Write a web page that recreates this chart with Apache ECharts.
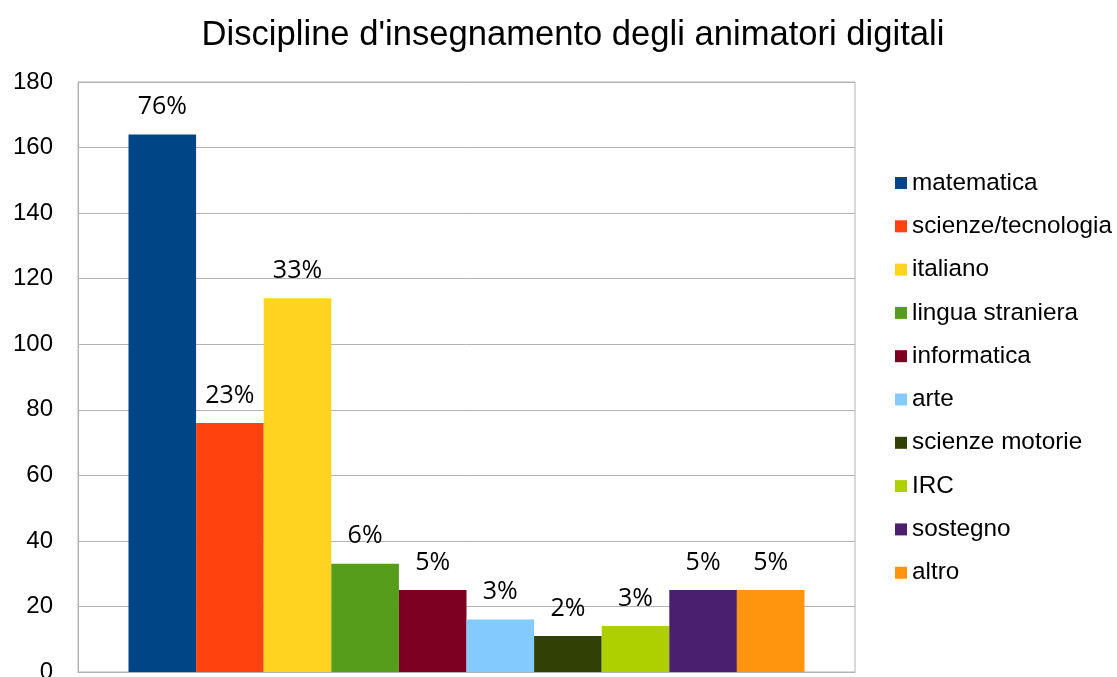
<!DOCTYPE html>
<html>
<head>
<meta charset="utf-8">
<script src="https://cdn.jsdelivr.net/npm/echarts@6/dist/echarts.min.js"></script>
<style>
  html, body { margin: 0; padding: 0; background: #fff; }
  #chart { width: 1117px; height: 677px; }
</style>
</head>
<body>
<div id="chart"></div>
<script>
  // dati
  var subjects = ['matematica', 'scienze/tecnologia', 'italiano', 'lingua straniera', 'informatica',
                  'arte', 'scienze motorie', 'IRC', 'sostegno', 'altro']
  var counts = [164, 76, 114, 33, 25, 16, 11, 14, 25, 25]
  var percentLabels = ['76%', '23%', '33%', '6%', '5%', '3%', '2%', '3%', '5%', '5%']
  var colors = ['#004586', '#ff420e', '#ffd320', '#579d1c', '#7e0021',
                '#83caff', '#314004', '#aecf00', '#4b1f6f', '#ff950e']

  var myChart = echarts.init(document.getElementById('chart'))

  var series = subjects.map(function (name, i) {
    return {
      name: name,
      type: 'bar',
      data: [counts[i]],
      barGap: '0%',
      barCategoryGap: '13%',
      itemStyle: { color: colors[i] },
      label: {
        show: true,
        position: 'top',
        distance: 15,
        formatter: function () { return percentLabels[i] },
        fontFamily: 'Open Sans',
        fontSize: 25,
        color: '#000'
      }
    }
  })

  var option = {
    animation: false,
    color: colors,
    title: {
      text: "Discipline d'insegnamento degli animatori digitali",
      left: 568,
      textAlign: 'center',
      top: 13,
      textStyle: {
        fontFamily: 'Liberation Sans',
        fontSize: 34.6,
        fontWeight: 'normal',
        color: '#000'
      }
    },
    grid: {
      left: 78,
      right: 262,
      top: 82,
      bottom: 5,
      outerBoundsMode: 'none',
      show: true,
      borderColor: '#b3b3b3',
      borderWidth: 1
    },
    legend: {
      orient: 'vertical',
      left: 890,
      top: 166,
      itemWidth: 12,
      itemHeight: 12,
      itemGap: 19.3,
      icon: 'rect',
      textStyle: {
        fontFamily: 'Liberation Sans',
        fontSize: 24.3,
        color: '#000'
      },
      data: subjects
    },
    xAxis: {
      type: 'category',
      data: [''],
      axisTick: { show: false },
      axisLabel: { show: false },
      axisLine: { lineStyle: { color: '#b3b3b3' } }
    },
    yAxis: {
      type: 'value',
      min: 0,
      max: 180,
      interval: 20,
      axisLine: { show: true, lineStyle: { color: '#b3b3b3' } },
      axisTick: { show: false },
      axisLabel: {
        fontFamily: 'Liberation Sans',
        fontSize: 24,
        color: '#000',
        margin: 25
      },
      splitLine: { lineStyle: { color: '#b3b3b3' } }
    },
    series: series
  }
  myChart.setOption(option)
</script>
</body>
</html>
